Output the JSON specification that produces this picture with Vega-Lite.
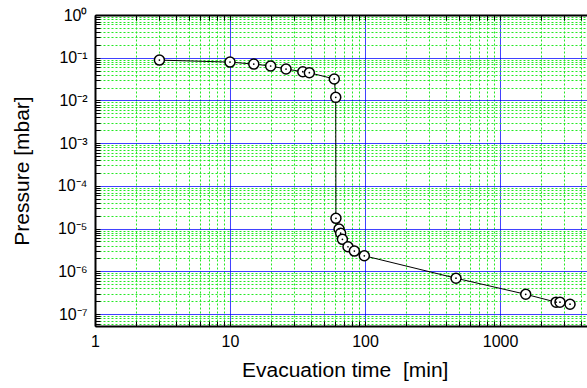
{
  "$schema": "https://vega.github.io/schema/vega-lite/v6.json",
  "width": 499.4,
  "height": 311,
  "autosize": {"type": "none"},
  "padding": {"left": 95, "top": 15, "right": 0, "bottom": 62},
  "background": "white",
  "config": {
    "view": {"stroke": null},
    "font": "Liberation Sans",
    "axis": {
      "labelFont": "Liberation Sans",
      "titleFont": "Liberation Sans",
      "labelColor": "black",
      "titleColor": "black",
      "titleFontWeight": "normal",
      "labelFontSize": 16,
      "titleFontSize": 21,
      "tickColor": "black",
      "tickWidth": 1,
      "tickSize": -5,
      "domainColor": "black",
      "domainWidth": 2,
      "labelOverlap": false,
      "labelBound": false,
      "labelFlush": false
    }
  },
  "data": {
    "values": [
      {"t": 3, "p": 0.088},
      {"t": 10, "p": 0.079},
      {"t": 15, "p": 0.071},
      {"t": 20, "p": 0.064},
      {"t": 26, "p": 0.0544},
      {"t": 34.6, "p": 0.047},
      {"t": 38.7, "p": 0.0446},
      {"t": 59.2, "p": 0.0318},
      {"t": 60.7, "p": 0.0118},
      {"t": 60.9, "p": 1.74e-5},
      {"t": 64.2, "p": 9.8e-6},
      {"t": 66, "p": 7.8e-6},
      {"t": 68, "p": 5.6e-6},
      {"t": 74.8, "p": 3.76e-6},
      {"t": 83.4, "p": 2.98e-6},
      {"t": 98.8, "p": 2.31e-6},
      {"t": 472, "p": 6.9e-7},
      {"t": 1550, "p": 2.9e-7},
      {"t": 2600, "p": 1.9e-7},
      {"t": 2780, "p": 1.9e-7},
      {"t": 3300, "p": 1.7e-7}
    ]
  },
  "layer": [
    {
      "mark": {"type": "line", "color": "black", "strokeWidth": 1},
      "encoding": {
        "x": {
          "field": "t", "type": "quantitative",
          "scale": {"type": "log", "domain": [1, 5000], "nice": false},
          "axis": {
            "orient": "bottom",
            "title": "Evacuation time \u00a0[min]",
            "values": [1,2,3,4,5,6,7,8,9,10,20,30,40,50,60,70,80,90,100,200,300,400,500,600,700,800,900,1000,2000,3000,4000,5000],
            "labelExpr": "indexof([1,10,100,1000], datum.value) >= 0 ? datum.value + '' : ''",
            "labelPadding": 13,
            "titlePadding": 10,
            "grid": true,
            "gridWidth": 1,
            "gridColor": {"condition": {"test": "indexof([1,10,100,1000], datum.value) >= 0", "value": "#0000ff"}, "value": "#22e822"},
            "gridDash": {"condition": {"test": "indexof([1,10,100,1000], datum.value) >= 0", "value": [1, 0]}, "value": [2, 2]}
          }
        },
        "y": {
          "field": "p", "type": "quantitative",
          "scale": {"type": "log", "domain": [5.25e-8, 1], "nice": false},
          "axis": {
            "orient": "left",
            "title": "Pressure [mbar]",
            "values": [6e-8,7e-8,8e-8,9e-8,1e-7,2e-7,3e-7,4e-7,5e-7,6e-7,7e-7,8e-7,9e-7,1e-6,2e-6,3e-6,4e-6,5e-6,6e-6,7e-6,8e-6,9e-6,1e-5,2e-5,3e-5,4e-5,5e-5,6e-5,7e-5,8e-5,9e-5,1e-4,2e-4,3e-4,4e-4,5e-4,6e-4,7e-4,8e-4,9e-4,0.001,0.002,0.003,0.004,0.005,0.006,0.007,0.008,0.009,0.01,0.02,0.03,0.04,0.05,0.06,0.07,0.08,0.09,0.1,0.2,0.3,0.4,0.5,0.6,0.7,0.8,0.9,1],
            "labelExpr": "abs(log(datum.value)/LN10 - round(log(datum.value)/LN10)) < 0.001 ? ['10⁻⁷','10⁻⁶','10⁻⁵','10⁻⁴','10⁻³','10⁻²','10⁻¹','10⁰'][round(log(datum.value)/LN10)+7] : ''",
            "labelPadding": 13,
            "titlePadding": 25,
            "grid": true,
            "gridWidth": 1,
            "gridColor": {"condition": {"test": "abs(log(datum.value)/LN10 - round(log(datum.value)/LN10)) < 0.001", "value": "#0000ff"}, "value": "#22e822"},
            "gridDash": {"condition": {"test": "abs(log(datum.value)/LN10 - round(log(datum.value)/LN10)) < 0.001", "value": [1, 0]}, "value": [2, 2]}
          }
        }
      }
    },
    {
      "mark": {"type": "circle", "fill": "white", "stroke": "black", "strokeWidth": 1.5, "size": 100, "opacity": 1},
      "encoding": {
        "x": {
          "field": "t", "type": "quantitative",
          "axis": {
            "orient": "top", "title": null, "labels": false, "grid": false,
            "values": [1,2,3,4,5,6,7,8,9,10,20,30,40,50,60,70,80,90,100,200,300,400,500,600,700,800,900,1000,2000,3000,4000,5000]
          }
        },
        "y": {
          "field": "p", "type": "quantitative",
          "axis": {
            "orient": "right", "title": null, "labels": false, "grid": false,
            "values": [1e-7,1e-6,1e-5,1e-4,0.001,0.01,0.1,1]
          }
        }
      }
    },
    {
      "mark": {"type": "circle", "color": "black", "size": 3, "opacity": 1},
      "encoding": {
        "x": {"field": "t", "type": "quantitative", "axis": null},
        "y": {"field": "p", "type": "quantitative", "axis": null}
      }
    }
  ],
  "resolve": {"axis": {"x": "independent", "y": "independent"}}
}
